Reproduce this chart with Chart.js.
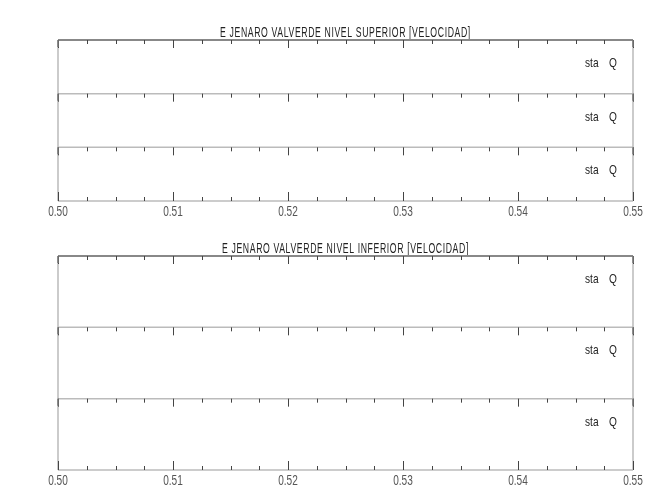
<!DOCTYPE html>
<html>
<head>
<meta charset="utf-8">
<script src="https://cdn.jsdelivr.net/npm/chart.js@4.4.1/dist/chart.umd.min.js"></script>
<style>
html, body { margin: 0; padding: 0; background: #fff; }
#cajaSup { position: absolute; left: 0; top: 0; width: 650px; height: 225px; }
#cajaInf { position: absolute; left: 0; top: 225px; width: 650px; height: 275px; }
</style>
</head>
<body>
<div id="cajaSup"><canvas id="graficoSup"></canvas></div>
<div id="cajaInf"><canvas id="graficoInf"></canvas></div>
<script>
// titulos de cada grupo de paneles
const tituloSup = "E JENARO VALVERDE NIVEL SUPERIOR [VELOCIDAD]";
const tituloInf = "E JENARO VALVERDE NIVEL INFERIOR [VELOCIDAD]";
// textos de cada panel
const textoEstacion = "sta";
const textoCaudal = "Q";
// eje x
const xMin = 0.50;
const xMax = 0.55;
const ticksMayores = [0.50, 0.51, 0.52, 0.53, 0.54, 0.55];
const ticksMenores = [0.5025, 0.505, 0.5075, 0.5125, 0.515, 0.5175, 0.5225, 0.525, 0.5275,
                      0.5325, 0.535, 0.5375, 0.5425, 0.545, 0.5475];
// los paneles no tienen datos dibujados
const datosPanel1 = [];
const datosPanel2 = [];
const datosPanel3 = [];

const fuente = "'Liberation Sans', Arial, sans-serif";

// texto estrecho (tipo plotter), escalado en horizontal
function textoEstrecho(ctx, txt, x, y, tam, escala, alinear, espacio) {
  ctx.save();
  ctx.font = tam + 'px ' + fuente;
  ctx.letterSpacing = (espacio || 0) + 'px';
  ctx.textBaseline = 'alphabetic';
  ctx.textAlign = alinear;
  ctx.translate(x, y);
  ctx.scale(escala, 1);
  ctx.fillText(txt, 0, 0);
  ctx.restore();
}

// dibuja marcos, ticks hacia dentro y textos
const marcoPlugin = {
  id: 'marco',
  afterDraw(chart, args, opts) {
    const ctx = chart.ctx;
    const x = chart.scales.x;
    const area = chart.chartArea;
    const izq = x.left, der = x.right;
    ctx.save();

    // titulo
    ctx.fillStyle = '#222';
    textoEstrecho(ctx, opts.titulo, (izq + der) / 2, area.top - 3, 14, 0.62, 'center', 1);

    // bordes laterales
    ctx.strokeStyle = '#bbb';
    ctx.lineWidth = 1.5;
    ctx.beginPath();
    ctx.moveTo(izq, area.top); ctx.lineTo(izq, area.bottom);
    ctx.moveTo(der, area.top); ctx.lineTo(der, area.bottom);
    ctx.stroke();

    const tops = ['p1', 'p2', 'p3'].map(function (id) { return chart.scales[id].top; });
    tops.sort(function (a, b) { return a - b; });
    tops.forEach(function (t, i) {
      // linea superior del panel
      ctx.strokeStyle = i == 0 ? '#888' : '#bbb';
      ctx.lineWidth = i == 0 ? 2 : 1.5;
      ctx.beginPath();
      ctx.moveTo(izq, t); ctx.lineTo(der, t);
      ctx.stroke();
      // ticks hacia abajo
      ctx.strokeStyle = '#444';
      ctx.lineWidth = 1;
      ctx.beginPath();
      ticksMayores.forEach(function (v) {
        const px = Math.round(x.getPixelForValue(v)) + 0.5;
        ctx.moveTo(px, t); ctx.lineTo(px, t + 8);
      });
      ticksMenores.forEach(function (v) {
        const px = Math.round(x.getPixelForValue(v)) + 0.5;
        ctx.moveTo(px, t); ctx.lineTo(px, t + 4);
      });
      ctx.stroke();
      // trocitos oscuros en los bordes
      ctx.strokeStyle = '#777';
      ctx.lineWidth = 1.5;
      ctx.beginPath();
      ctx.moveTo(izq, t); ctx.lineTo(izq, t + 7);
      ctx.moveTo(der, t); ctx.lineTo(der, t + 7);
      ctx.stroke();
      // textos
      ctx.fillStyle = '#222';
      textoEstrecho(ctx, textoEstacion, der - 48, t + 27, 13, 0.78, 'left');
      textoEstrecho(ctx, textoCaudal, der - 24, t + 27, 13, 0.78, 'left');
    });

    // linea inferior y ticks hacia arriba
    const b = area.bottom;
    ctx.strokeStyle = '#bbb';
    ctx.lineWidth = 1.5;
    ctx.beginPath();
    ctx.moveTo(izq, b); ctx.lineTo(der, b);
    ctx.stroke();
    ctx.strokeStyle = '#444';
    ctx.lineWidth = 1;
    ctx.beginPath();
    ticksMayores.forEach(function (v) {
      const px = Math.round(x.getPixelForValue(v)) + 0.5;
      ctx.moveTo(px, b); ctx.lineTo(px, b - 9);
    });
    ticksMenores.forEach(function (v) {
      const px = Math.round(x.getPixelForValue(v)) + 0.5;
      ctx.moveTo(px, b); ctx.lineTo(px, b - 4);
    });
    ctx.stroke();

    // etiquetas del eje x, con los ticks que calcula la escala
    ctx.fillStyle = '#555';
    x.ticks.forEach(function (tk) {
      textoEstrecho(ctx, tk.value.toFixed(2), x.getPixelForValue(tk.value), b + 15, 14, 0.72, 'center');
    });
    ctx.restore();
  }
};

function ejeY() {
  return {
    type: 'linear',
    position: 'left',
    stack: 'paneles',
    stackWeight: 1,
    min: 0,
    max: 1,
    ticks: { display: false },
    grid: { display: false, drawTicks: false },
    border: { display: false }
  };
}

function crearGrafico(idCanvas, titulo, padding) {
  return new Chart(idCanvas, {
    type: 'line',
    data: {
      datasets: [
        { label: 'panel 1', data: datosPanel1, yAxisID: 'p1', borderColor: '#000' },
        { label: 'panel 2', data: datosPanel2, yAxisID: 'p2', borderColor: '#000' },
        { label: 'panel 3', data: datosPanel3, yAxisID: 'p3', borderColor: '#000' }
      ]
    },
    options: {
      responsive: true,
      maintainAspectRatio: false,
      animation: false,
      layout: { padding: padding },
      plugins: {
        legend: { display: false },
        title: { display: false },
        tooltip: { enabled: false },
        marco: { titulo: titulo }
      },
      scales: {
        x: {
          type: 'linear',
          min: xMin,
          max: xMax,
          ticks: { display: false, stepSize: 0.01 },
          grid: { display: false, drawTicks: false },
          border: { display: false }
        },
        p1: ejeY(),
        p2: ejeY(),
        p3: ejeY()
      }
    },
    plugins: [marcoPlugin]
  });
}

crearGrafico('graficoSup', tituloSup, { left: 58, right: 17, top: 40, bottom: 24 });
crearGrafico('graficoInf', tituloInf, { left: 58, right: 17, top: 31, bottom: 30 });
</script>
</body>
</html>
